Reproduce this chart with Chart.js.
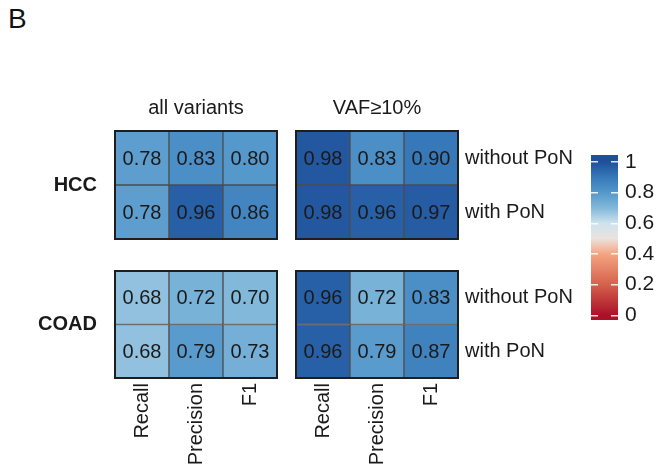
<!DOCTYPE html>
<html>
<head>
<meta charset="utf-8">
<title>PoN heatmap</title>
<script src="https://cdn.jsdelivr.net/npm/chart.js@4.4.1/dist/chart.umd.min.js"></script>
<style>
    html, body { margin: 0; padding: 0; background: #fff; }
    #figure { position: relative; width: 658px; height: 470px; overflow: hidden; background: #fff; }
    #figure canvas { position: absolute; left: 0; top: 0; }
    #panelLetter { position: absolute; left: 8px; top: 3px; font: 28px "Liberation Sans", Arial, sans-serif; color: #111; }
</style>
</head>
<body>
<div id="figure">
    <div id="panelLetter">B</div>
    <canvas id="hccAll" width="658" height="470"></canvas>
    <canvas id="hccVaf" width="658" height="470"></canvas>
    <canvas id="coadAll" width="658" height="470"></canvas>
    <canvas id="coadVaf" width="658" height="470"></canvas>
    <canvas id="colorbar" width="658" height="470"></canvas>
</div>
<script>
const metrics = ['Recall', 'Precision', 'F1'];
const conditions = ['without PoN', 'with PoN'];
const cohorts = ['HCC', 'COAD'];
const filters = ['all variants', 'VAF≥10%'];

// rows follow `conditions`, columns follow `metrics`
const hccAllWithout = [0.78, 0.83, 0.80];
const hccAllWith = [0.78, 0.96, 0.86];
const hccVafWithout = [0.98, 0.83, 0.90];
const hccVafWith = [0.98, 0.96, 0.97];
const coadAllWithout = [0.68, 0.72, 0.70];
const coadAllWith = [0.68, 0.79, 0.73];
const coadVafWithout = [0.96, 0.72, 0.83];
const coadVafWith = [0.96, 0.79, 0.87];

const colorLimits = [0, 1];
const colorbarTicks = [0, 0.2, 0.4, 0.6, 0.8, 1];

const WIDTH = 658;
const HEIGHT = 470;
const GROUP_W = 80;
const ROWS_W = 150;
const TITLE_H = 45;
const METRIC_H = 90;
const TEXT = '#1a1a1a';

// RdBu-like ramp, position in 0..1 of the colour limits
const PALETTE = [
    [0.0, [170, 16, 40]],
    [0.2, [214, 96, 77]],
    [0.4, [244, 165, 130]],
    [0.5, [236, 226, 221]],
    [0.6, [205, 227, 238]],
    [0.7, [130, 184, 218]],
    [0.8, [85, 152, 203]],
    [0.9, [55, 120, 185]],
    [1.0, [30, 80, 155]]
];

Chart.defaults.font.family = '"Liberation Sans", Arial, sans-serif';
Chart.defaults.font.size = 20;
Chart.defaults.color = TEXT;

function rgb(c) {
    return `rgb(${Math.round(c[0])}, ${Math.round(c[1])}, ${Math.round(c[2])})`;
}

function colorAt(value) {
    const t = Math.min(1, Math.max(0, (value - colorLimits[0]) / (colorLimits[1] - colorLimits[0])));
    for (let i = 1; i < PALETTE.length; i++) {
        const [p1, c1] = PALETTE[i];
        const [p0, c0] = PALETTE[i - 1];
        if (t <= p1) {
            const f = (t - p0) / (p1 - p0);
            return rgb(c0.map((v, k) => v + (c1[k] - v) * f));
        }
    }
    return rgb(PALETTE[PALETTE.length - 1][1]);
}

const cellLabels = {
    id: 'cellLabels',
    afterDatasetsDraw(chart) {
        const ctx = chart.ctx;
        ctx.save();
        ctx.font = '20px "Liberation Sans", Arial, sans-serif';
        ctx.fillStyle = TEXT;
        ctx.textAlign = 'center';
        ctx.textBaseline = 'middle';
        chart.data.datasets.forEach((dataset, i) => {
            chart.getDatasetMeta(i).data.forEach((bar, j) => {
                const { x, y } = bar.getCenterPoint();
                ctx.fillText(dataset.data[j].score.toFixed(2), x, y + 1);
            });
        });
        ctx.restore();
    }
};

const panelFrame = {
    id: 'panelFrame',
    afterDatasetsDraw(chart) {
        const { left, top, width, height } = chart.chartArea;
        const ctx = chart.ctx;
        ctx.save();
        ctx.lineWidth = 2;
        ctx.strokeStyle = '#1e1e1e';
        ctx.strokeRect(left, top, width, height);
        ctx.restore();
    }
};

function hiddenGrid() {
    return { display: false, drawTicks: false };
}

function createPanel(canvasId, panel) {
    const { group, title, rows, area, showGroup, showTitle, showMetrics, showRows } = panel;

    const datasets = conditions.map((condition, i) => ({
        label: condition,
        data: metrics.map((metric, j) => ({ x: metric, y: 1, score: rows[i][j] })),
        backgroundColor: ctx => colorAt(ctx.raw.score),
        borderColor: '#4d4d4d',
        borderWidth: 1,
        borderSkipped: false,
        barPercentage: 1,
        categoryPercentage: 1
    }));

    return new Chart(document.getElementById(canvasId), {
        type: 'bar',
        data: { labels: metrics, datasets },
        options: {
            responsive: false,
            animation: false,
            devicePixelRatio: 1,
            events: [],
            layout: {
                padding: {
                    left: area.left - (showGroup ? GROUP_W : 0),
                    right: WIDTH - area.right - (showRows ? ROWS_W : 0),
                    top: area.top - (showTitle ? TITLE_H : 0),
                    bottom: HEIGHT - area.bottom - (showMetrics ? METRIC_H : 0)
                }
            },
            plugins: {
                legend: { display: false },
                tooltip: { enabled: false }
            },
            scales: {
                x: {
                    stacked: true,
                    display: showMetrics,
                    offset: true,
                    grid: hiddenGrid(),
                    border: { display: false },
                    ticks: { minRotation: 90, maxRotation: 90, padding: 5, autoSkip: false },
                    afterFit: showMetrics ? scale => { scale.height = METRIC_H; } : undefined
                },
                y: {
                    stacked: true,
                    display: false,
                    reverse: true,
                    min: 0,
                    max: conditions.length
                },
                group: {
                    type: 'category',
                    axis: 'y',
                    position: 'left',
                    labels: [group],
                    offset: true,
                    display: showGroup,
                    grid: hiddenGrid(),
                    border: { display: false },
                    ticks: { padding: 18, font: { weight: 'bold' } },
                    afterFit: showGroup ? scale => { scale.width = GROUP_W; } : undefined
                },
                rows: {
                    type: 'category',
                    axis: 'y',
                    position: 'right',
                    labels: conditions,
                    offset: true,
                    display: showRows,
                    grid: hiddenGrid(),
                    border: { display: false },
                    ticks: { padding: 7 },
                    afterFit: showRows ? scale => { scale.width = ROWS_W; } : undefined
                },
                heading: {
                    type: 'category',
                    axis: 'x',
                    position: 'top',
                    labels: [title],
                    offset: true,
                    display: showTitle,
                    grid: hiddenGrid(),
                    border: { display: false },
                    ticks: { padding: 11 },
                    afterFit: showTitle ? scale => { scale.height = TITLE_H; } : undefined
                }
            }
        },
        plugins: [cellLabels, panelFrame]
    });
}

function colorbarGradient(chart) {
    const yScale = chart.scales.y;
    const fallback = colorAt((colorLimits[0] + colorLimits[1]) / 2);
    if (!chart.chartArea || !yScale) {
        return fallback;
    }
    const y0 = yScale.getPixelForValue(colorLimits[0]);
    const y1 = yScale.getPixelForValue(colorLimits[1]);
    if (!Number.isFinite(y0) || !Number.isFinite(y1) || y0 === y1) {
        return fallback;
    }
    const gradient = chart.ctx.createLinearGradient(0, y0, 0, y1);
    PALETTE.forEach(([stop, color]) => gradient.addColorStop(stop, rgb(color)));
    return gradient;
}

function createColorbar(canvasId, area) {
    const yMin = colorLimits[0] - 0.03;
    const yMax = colorLimits[1] + 0.045;
    const labelWidth = 40;

    const chart = new Chart(document.getElementById(canvasId), {
        type: 'bar',
        data: {
            labels: ['colour key'],
            datasets: [{
                data: [[yMin, yMax]],
                backgroundColor: ctx => colorbarGradient(ctx.chart),
                borderWidth: 0,
                barPercentage: 1,
                categoryPercentage: 1
            }]
        },
        options: {
            responsive: false,
            animation: false,
            devicePixelRatio: 1,
            events: [],
            layout: {
                padding: {
                    left: area.left,
                    right: WIDTH - area.right - labelWidth,
                    top: area.top,
                    bottom: HEIGHT - area.bottom
                }
            },
            plugins: {
                legend: { display: false },
                tooltip: { enabled: false }
            },
            scales: {
                x: { display: false },
                y: {
                    position: 'right',
                    min: yMin,
                    max: yMax,
                    afterBuildTicks: scale => {
                        scale.ticks = colorbarTicks.map(value => ({ value }));
                    },
                    grid: { z: 1, color: 'rgba(255, 255, 255, 0.85)', lineWidth: 1.5, drawTicks: false },
                    border: { display: false, dash: [7, 13] },
                    ticks: {
                        padding: 7,
                        font: { size: 21 },
                        callback: value => String(Math.round(value * 10) / 10)
                    },
                    afterFit: scale => { scale.width = labelWidth; }
                }
            }
        }
    });
    // second pass so the gradient is resolved against the laid-out scale
    chart.update('none');
    return chart;
}

const topArea = { top: 131, bottom: 239 };
const bottomArea = { top: 271, bottom: 378 };
const leftArea = { left: 115, right: 277 };
const rightArea = { left: 296, right: 458 };

createPanel('hccAll', {
    group: cohorts[0], title: filters[0], rows: [hccAllWithout, hccAllWith],
    area: { ...leftArea, ...topArea },
    showGroup: true, showTitle: true, showMetrics: false, showRows: false
});
createPanel('hccVaf', {
    group: cohorts[0], title: filters[1], rows: [hccVafWithout, hccVafWith],
    area: { ...rightArea, ...topArea },
    showGroup: false, showTitle: true, showMetrics: false, showRows: true
});
createPanel('coadAll', {
    group: cohorts[1], title: filters[0], rows: [coadAllWithout, coadAllWith],
    area: { ...leftArea, ...bottomArea },
    showGroup: true, showTitle: false, showMetrics: true, showRows: false
});
createPanel('coadVaf', {
    group: cohorts[1], title: filters[1], rows: [coadVafWithout, coadVafWith],
    area: { ...rightArea, ...bottomArea },
    showGroup: false, showTitle: false, showMetrics: true, showRows: true
});
createColorbar('colorbar', { left: 591, right: 618, top: 155, bottom: 320 });
</script>
</body>
</html>
